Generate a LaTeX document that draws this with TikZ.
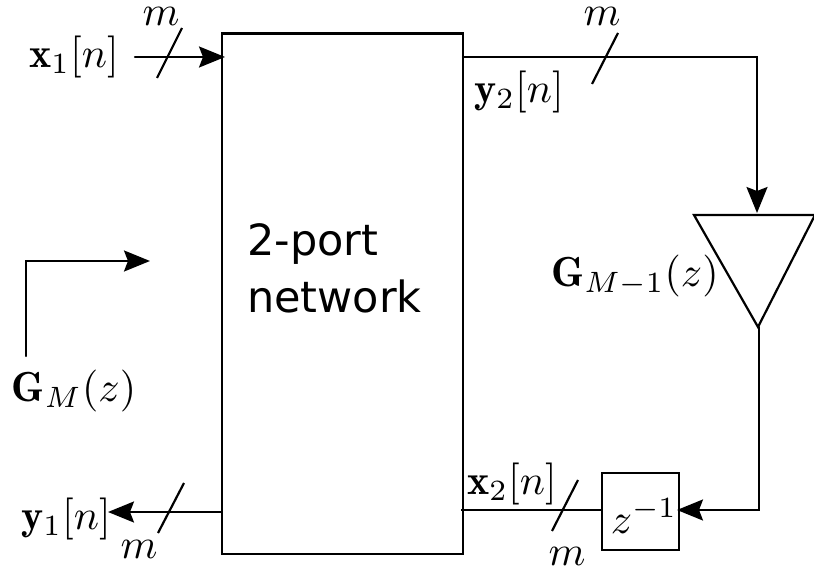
\documentclass[tikz,border=0pt]{standalone}
\usepackage{fontspec}
\newfontfamily\labelfont{DejaVu Sans}
\usetikzlibrary{arrows.meta}
\tikzset{
  x=1pt,y=-1pt,
  wire/.style={draw=black,line width=2.2pt,line cap=round,line join=miter},
  thinwire/.style={draw=black,line width=1.9pt},
  flow/.style={wire,-{Stealth[length=26pt,width=21pt,inset=4pt]}},
  slash/.style={draw=black,line width=2.2pt},
  blockbox/.style={draw=black,line width=2.2pt,inner sep=0pt,anchor=north west},
  mathlabel/.style={inner sep=0pt,scale=4.2},
  netlabel/.style={inner sep=0pt,anchor=west,font=\labelfont\fontsize{43}{52}\selectfont,align=left},
}
\begin{document}
\begin{tikzpicture}
\useasboundingbox (0,0) rectangle (814,572);
% blocks
\node[blockbox,minimum width=241pt,minimum height=520pt] (net) at (220.5,32.5) {};
\node[blockbox,minimum width=77pt,minimum height=77pt] (delay) at (600.5,471.5) {};
\draw[wire,line join=miter] (694,215) coordinate (tl) -- (815,215) coordinate (tr) -- (758,327) coordinate (tip) -- cycle;
% ports
\coordinate (x1in) at (135,57);
\coordinate (x1out) at (225,57);
\coordinate (y2out) at (463,57);
\coordinate (y2turn) at (757,57);
\coordinate (gin) at (757,213);
\coordinate (gout) at (759,327);
\coordinate (gturn) at (759,510);
\coordinate (zin) at (677,510);
\coordinate (x2out) at (461,510);
\coordinate (zout) at (601,510);
\coordinate (y1start) at (221,512);
\coordinate (y1end) at (108,512);
\coordinate (ga) at (26,356);
\coordinate (gb) at (26,261);
\coordinate (gc) at (150,261);
% connectors
\draw[flow] (x1in) -- (x1out);
\draw[flow] (y2out) -- (y2turn) -- (gin);
\draw[flow] (gout) -- (gturn) -- (zin);
\draw[thinwire] (x2out) -- (zout);
\draw[flow] (y1start) -- (y1end);
\draw[flow] (ga) -- (gb) -- (gc);
% bus slashes
\draw[slash] (157,78) coordinate (s1a) -- (182,28) coordinate (s1b);
\draw[slash] (592,84) coordinate (s2a) -- (618,33) coordinate (s2b);
\draw[slash] (552,531) coordinate (s3a) -- (578,480) coordinate (s3b);
\draw[slash] (158,533) coordinate (s4a) -- (184,483) coordinate (s4b);
% labels
\node[mathlabel] (lx1) at (74,57) {$\mathbf{x}_1[n]$};
\node[mathlabel] (ly2) at (519,92) {$\mathbf{y}_2[n]$};
\node[mathlabel] (lx2) at (512,484) {$\mathbf{x}_2[n]$};
\node[mathlabel] (ly1) at (66,519) {$\mathbf{y}_1[n]$};
\node[mathlabel] (lm1) at (161,16) {$m$};
\node[mathlabel] (lm2) at (602,16) {$m$};
\node[mathlabel] (lm3) at (567,556) {$m$};
\node[mathlabel] (lm4) at (139,549) {$m$};
\node[mathlabel] (lgm1) at (635,276) {$\mathbf{G}_{M-1}(z)$};
\node[mathlabel] (lgm) at (74,391) {$\mathbf{G}_{M}(z)$};
\node[mathlabel] (lz) at (644,516) {$z^{-1}$};
\node[netlabel] (ln1) at (247,244) {2-port};
\node[netlabel] (ln2) at (247,296) {network};
\end{tikzpicture}
\end{document}
